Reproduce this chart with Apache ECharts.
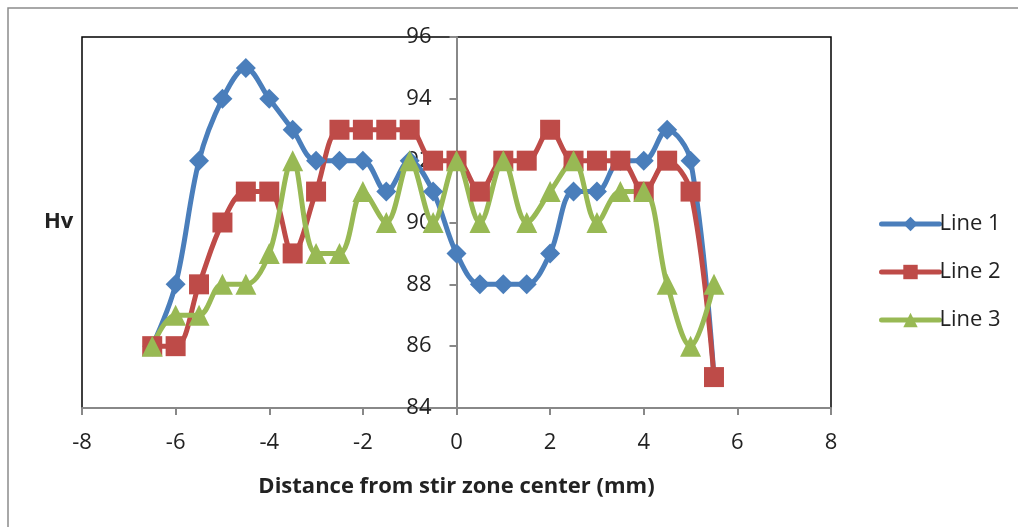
<!DOCTYPE html>
<html>
<head>
<meta charset="utf-8">
<script src="https://cdn.jsdelivr.net/npm/echarts@6/dist/echarts.min.js"></script>
<style>
  html, body { margin: 0; padding: 0; background: #fff; }
  #chart { width: 1018px; height: 527px; }
</style>
</head>
<body>
<div id="chart"></div>
<script>
// Hardness profile across the stir zone
const distances = [-6.5, -6, -5.5, -5, -4.5, -4, -3.5, -3, -2.5, -2, -1.5, -1, -0.5,
                   0, 0.5, 1, 1.5, 2, 2.5, 3, 3.5, 4, 4.5, 5, 5.5];
const line1 = [86, 88, 92, 94, 95, 94, 93, 92, 92, 92, 91, 92, 91,
               89, 88, 88, 88, 89, 91, 91, 92, 92, 93, 92, 85];
const line2 = [86, 86, 88, 90, 91, 91, 89, 91, 93, 93, 93, 93, 92,
               92, 91, 92, 92, 93, 92, 92, 92, 91, 92, 91, 85];
const line3 = [86, 87, 87, 88, 88, 89, 92, 89, 89, 91, 90, 92, 90,
               92, 90, 92, 90, 91, 92, 90, 91, 91, 88, 86, 88];
const seriesNames = ['Line 1', 'Line 2', 'Line 3'];
const xTicks = { min: -8, max: 8, step: 2 };
const yTicks = { min: 84, max: 96, step: 2 };

const FONT = '"Open Sans"';
const FONT_SIZE = 22;
const GRID_LEFT = 82;
const pairs = arr => distances.map((d, i) => [d, arr[i]]);

const chart = echarts.init(document.getElementById('chart'));

function lineSeries(name, values, color, symbol, size) {
  return {
    name, type: 'line', data: pairs(values),
    smooth: 0.35,
    symbol, symbolSize: size,
    showAllSymbol: true,
    lineStyle: { color, width: 5, cap: 'round' },
    itemStyle: { color },
    emphasis: { disabled: true }
  };
}

chart.setOption({
  animation: false,
  backgroundColor: '#fff',
  graphic: [{
    type: 'rect',
    shape: { x: 8, y: 8, width: 1020, height: 540 },
    style: { fill: 'none', stroke: '#8c8c8c', lineWidth: 1.5 },
    silent: true
  }, {
    type: 'text', left: 44, top: 211,
    style: { text: 'Hv', font: 'bold ' + FONT_SIZE + 'px ' + FONT, fill: '#222' }, silent: true
  }],
  grid: {
    left: GRID_LEFT, right: 187, top: 37, bottom: 119,
    show: true, borderColor: '#000', borderWidth: 1.5,
    backgroundColor: 'transparent'
  },
  legend: {
    orient: 'vertical',
    left: 874, top: 208,
    itemWidth: 58, itemHeight: 18, itemGap: 26,
    lineStyle: { width: 5, cap: 'round' },
    textStyle: { fontFamily: FONT, fontSize: FONT_SIZE, color: '#222', padding: [0, 0, 0, -5] },
    data: seriesNames
  },
  xAxis: {
    type: 'value', min: xTicks.min, max: xTicks.max, interval: xTicks.step,
    name: 'Distance from stir zone center (mm)',
    nameLocation: 'middle', nameGap: 68,
    nameTextStyle: { fontFamily: FONT, fontSize: FONT_SIZE, fontWeight: 'bold', color: '#222' },
    axisLine: { onZero: false, lineStyle: { color: '#888', width: 2 } },
    axisTick: { show: true, length: 7, lineStyle: { color: '#888', width: 2 } },
    axisLabel: { fontFamily: FONT, fontSize: FONT_SIZE, color: '#222', margin: 24 },
    splitLine: { show: false }
  },
  yAxis: {
    type: 'value', min: yTicks.min, max: yTicks.max, interval: yTicks.step,
    position: 'left', offset: 0,
    axisLine: { onZero: false, lineStyle: { color: '#888', width: 2 } },
    axisTick: { show: true, length: 7, lineStyle: { color: '#888', width: 2 } },
    axisLabel: { fontFamily: FONT, fontSize: FONT_SIZE, color: '#222', margin: 25 },
    splitLine: { show: false }
  },
  series: [
    lineSeries(seriesNames[0], line1, '#4a7ebb', 'diamond', 20),
    lineSeries(seriesNames[1], line2, '#be4b48', 'rect', 20),
    lineSeries(seriesNames[2], line3, '#98b954', 'triangle', 21)
  ]
});

// The vertical axis crosses the horizontal one at a distance of zero
const zeroX = chart.convertToPixel({ xAxisIndex: 0 }, 0);
chart.setOption({ yAxis: { offset: -(zeroX - GRID_LEFT) } });
</script>
</body>
</html>
